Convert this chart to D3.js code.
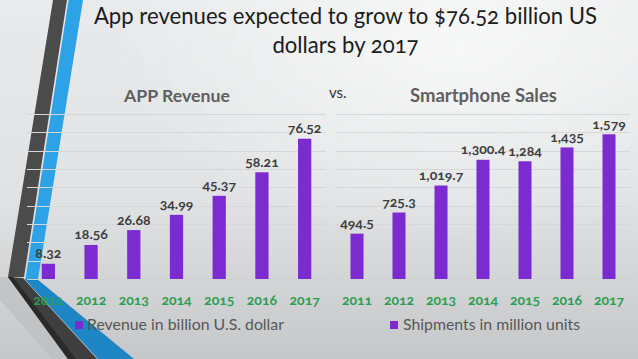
<!DOCTYPE html>
<html><head><meta charset="utf-8">
<script src="https://cdn.jsdelivr.net/npm/d3@7"></script>
<style>
html,body{margin:0;padding:0;overflow:hidden;background:#e6e7e8;}
text{font-family:Lato,"Open Sans",sans-serif;font-variant-numeric:oldstyle-nums;}
</style></head>
<body><svg id="c" width="638" height="359"></svg>
<script>
const years = ["2011","2012","2013","2014","2015","2016","2017"];
const revenue = [8.32,18.56,26.68,34.99,45.37,58.21,76.52];
const revenueLabels = ["8.32","18.56","26.68","34.99","45.37","58.21","76.52"];
const shipments = [494.5,725.3,1019.7,1300.4,1284,1435,1579];
const shipmentLabels = ["494.5","725.3","1,019.7","1,300.4","1,284","1,435","1,579"];
const revenueTicks = d3.range(0,91,10);
const shipmentTicks = d3.range(0,1801,200);
const titleLines = ["App revenues expected to grow to $76.52 billion US","dollars by 2017"];
const chartTitles = ["APP Revenue","Smartphone Sales"];
const legendLabels = ["Revenue in billion U.S. dollar","Shipments in million units"];

const svg = d3.select("#c");
const defs = svg.append("defs");
const lg = defs.append("linearGradient").attr("id","bg").attr("x1",0).attr("y1",0).attr("x2",0).attr("y2",1);
lg.append("stop").attr("offset","0%").attr("stop-color","#e9eaeb");
lg.append("stop").attr("offset","55%").attr("stop-color","#e1e2e3");
lg.append("stop").attr("offset","100%").attr("stop-color","#c6c7c9");
const rg = defs.append("radialGradient").attr("id","hl").attr("cx","0.72").attr("cy","0.12").attr("r","0.55");
rg.append("stop").attr("offset","0%").attr("stop-color","#ffffff").attr("stop-opacity",0.7);
rg.append("stop").attr("offset","100%").attr("stop-color","#ffffff").attr("stop-opacity",0);
svg.append("rect").attr("width",638).attr("height",359).attr("fill","url(#bg)");
svg.append("rect").attr("width",638).attr("height",359).attr("fill","url(#hl)");

// decorative strips (under chart)
const deco = svg.append("g");
deco.append("path").attr("d","M8,277 L0,277 L0,300 L52,359 L68,359 Z").attr("fill","#b9babc").attr("opacity",0.6);
deco.append("path").attr("d","M53,0 L67,0 L24,277 L8,277 Z").attr("fill","#4b4b4b");
deco.append("path").attr("d","M68.5,0 L83,0 L38,279 L25.5,279 Z").attr("fill","#2ea2e6");
deco.append("path").attr("d","M8,277 L23,278 L97,359 L68,359 Z").attr("fill","#3f3f3f");
deco.append("path").attr("d","M8,277 L13,277 L76,359 L68,359 Z").attr("fill","#2a2a2a");
deco.append("path").attr("d","M24.5,279 L37,279 L134,359 L98,359 Z").attr("fill","#1f86c6");

function fit(sel, w){
  const n = sel.node(); let fs = parseFloat(sel.attr("font-size"));
  for(let i=0;i<3;i++){ const cw=n.getComputedTextLength(); fs=fs*w/cw; sel.attr("font-size",fs); }
}

// title
const t1 = svg.append("text").attr("x",345.5).attr("y",24).attr("text-anchor","middle").attr("font-size",22).attr("fill","#1c1c1c").text(titleLines[0]);
fit(t1,503);
svg.append("text").attr("x",345.5).attr("y",53).attr("text-anchor","middle").attr("font-size",parseFloat(t1.attr("font-size"))).attr("fill","#1c1c1c").text(titleLines[1]);

const y0 = 279, y1 = 114;
function chart(range, vals, labels, ticks, maxV, title, titleX, titleW){
  const x = d3.scaleBand().domain(years).range(range).paddingInner(0.69).paddingOuter(0.345);
  const y = d3.scaleLinear().domain([0,maxV]).range([y0,y1]);
  const g = svg.append("g");
  g.selectAll("line.grid").data(ticks).join("line").attr("class","grid")
    .attr("x1",range[0]).attr("x2",range[1]).attr("y1",d=>Math.round(y(d))+0.5).attr("y2",d=>Math.round(y(d))+0.5)
    .attr("stroke",d=>d===0?"#d0d1d2":"#d6d7d8").attr("stroke-width",1);
  g.selectAll("rect.bar").data(vals).join("rect").attr("class","bar")
    .attr("x",(d,i)=>x(years[i])).attr("width",x.bandwidth())
    .attr("y",d=>y(d)).attr("height",d=>y0-y(d)).attr("fill","#7c2bd0");
  g.selectAll("text.lab").data(vals).join("text").attr("class","lab")
    .attr("x",(d,i)=>x(years[i])+x.bandwidth()/2).attr("y",d=>y(d)-5.5)
    .attr("text-anchor","middle").attr("font-size",14).attr("font-weight","bold").attr("fill","#3d3d3d")
    .text((d,i)=>labels[i]);
  const ax = g.append("g").attr("transform",`translate(0,${y0})`).call(d3.axisBottom(x).tickSize(0).tickPadding(0));
  ax.select(".domain").remove();
  ax.selectAll("text").attr("dy",null).attr("y",26).attr("font-size",14).attr("font-weight","bold")
    .attr("fill","#2a9e52").attr("font-family","Lato,sans-serif");
  const ct = g.append("text").attr("x",titleX).attr("y",102).attr("font-size",16).attr("font-weight","bold").attr("fill","#5f5f5f").text(title);
  fit(ct,titleW);
}
chart([27,326], revenue, revenueLabels, revenueTicks, 90, chartTitles[0], 124, 106);
chart([336,630], shipments, shipmentLabels, shipmentTicks, 1800, chartTitles[1], 410, 147);

svg.append("text").attr("x",329).attr("y",98).attr("font-size",15).attr("fill","#333").text("vs.");

// legends
function legend(sx, tx, txt, w){
  svg.append("rect").attr("x",sx).attr("y",321).attr("width",8).attr("height",8).attr("fill","#7c2bd0");
  const t = svg.append("text").attr("x",tx).attr("y",330).attr("font-size",14).attr("fill","#575757").text(txt);
  fit(t,w);
}
legend(75, 87, legendLabels[0], 197);
legend(390, 403, legendLabels[1], 177);
</script></body></html>
